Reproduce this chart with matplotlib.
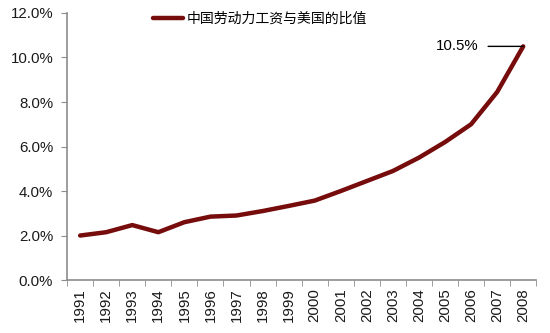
import matplotlib.pyplot as plt
import numpy as np

plt.rcParams['font.family'] = ['Liberation Sans', 'Noto Sans CJK SC', 'DejaVu Sans']

years = [str(y) for y in range(1991, 2009)]
ratio = [2.0, 2.15, 2.47, 2.15, 2.6, 2.85, 2.9, 3.1, 3.33, 3.57,
         4.0, 4.45, 4.9, 5.5, 6.2, 7.0, 8.45, 10.5]
series_name = '中国劳动力工资与美国的比值'

line_color = '#760C0C'
axis_color = '#8C8C8C'

fig = plt.figure(figsize=(5.5, 3.33), dpi=100)
ax = fig.add_axes([0.122, 0.159, 0.853, 0.802])

x = np.arange(len(years))
ax.plot(x, ratio, color=line_color, linewidth=3.2, solid_capstyle='round',
        solid_joinstyle='round', label=series_name)

ax.set_xlim(-0.45, len(years) - 0.55)
ax.set_ylim(0, 12)
ax.set_yticks(np.arange(0, 12.1, 2))
ax.set_yticklabels(['%.1f%%' % v for v in np.arange(0, 12.1, 2)])

ax.set_xticks(x)
ax.set_xticklabels(years, rotation=90)
ax.set_xticks(np.arange(-0.5, len(years)), minor=True)
ax.tick_params(axis='x', which='major', length=0, pad=6)
ax.tick_params(axis='x', which='minor', length=4, color=axis_color, direction='out')
ax.tick_params(axis='y', length=4, color=axis_color, direction='out', pad=6)
ax.tick_params(labelsize=10.8, labelcolor='#1a1a1a')

for side in ['top', 'right']:
    ax.spines[side].set_visible(False)
for side in ['left', 'bottom']:
    ax.spines[side].set_color(axis_color)
    ax.spines[side].set_linewidth(1.2)

ax.legend(loc='center left', bbox_to_anchor=(0.183, 0.977), frameon=False,
          fontsize=10, handlelength=2.15, handletextpad=0.3,
          borderaxespad=0, borderpad=0)

ax.annotate('%.1f%%' % ratio[-1], xy=(x[-1], ratio[-1]),
            xytext=(x[-1] - 1.72, ratio[-1]), fontsize=10.8,
            ha='right', va='center',
            arrowprops=dict(arrowstyle='-', color='black', lw=1,
                            shrinkA=5, shrinkB=0))

fig.savefig('out.png', dpi=100)
